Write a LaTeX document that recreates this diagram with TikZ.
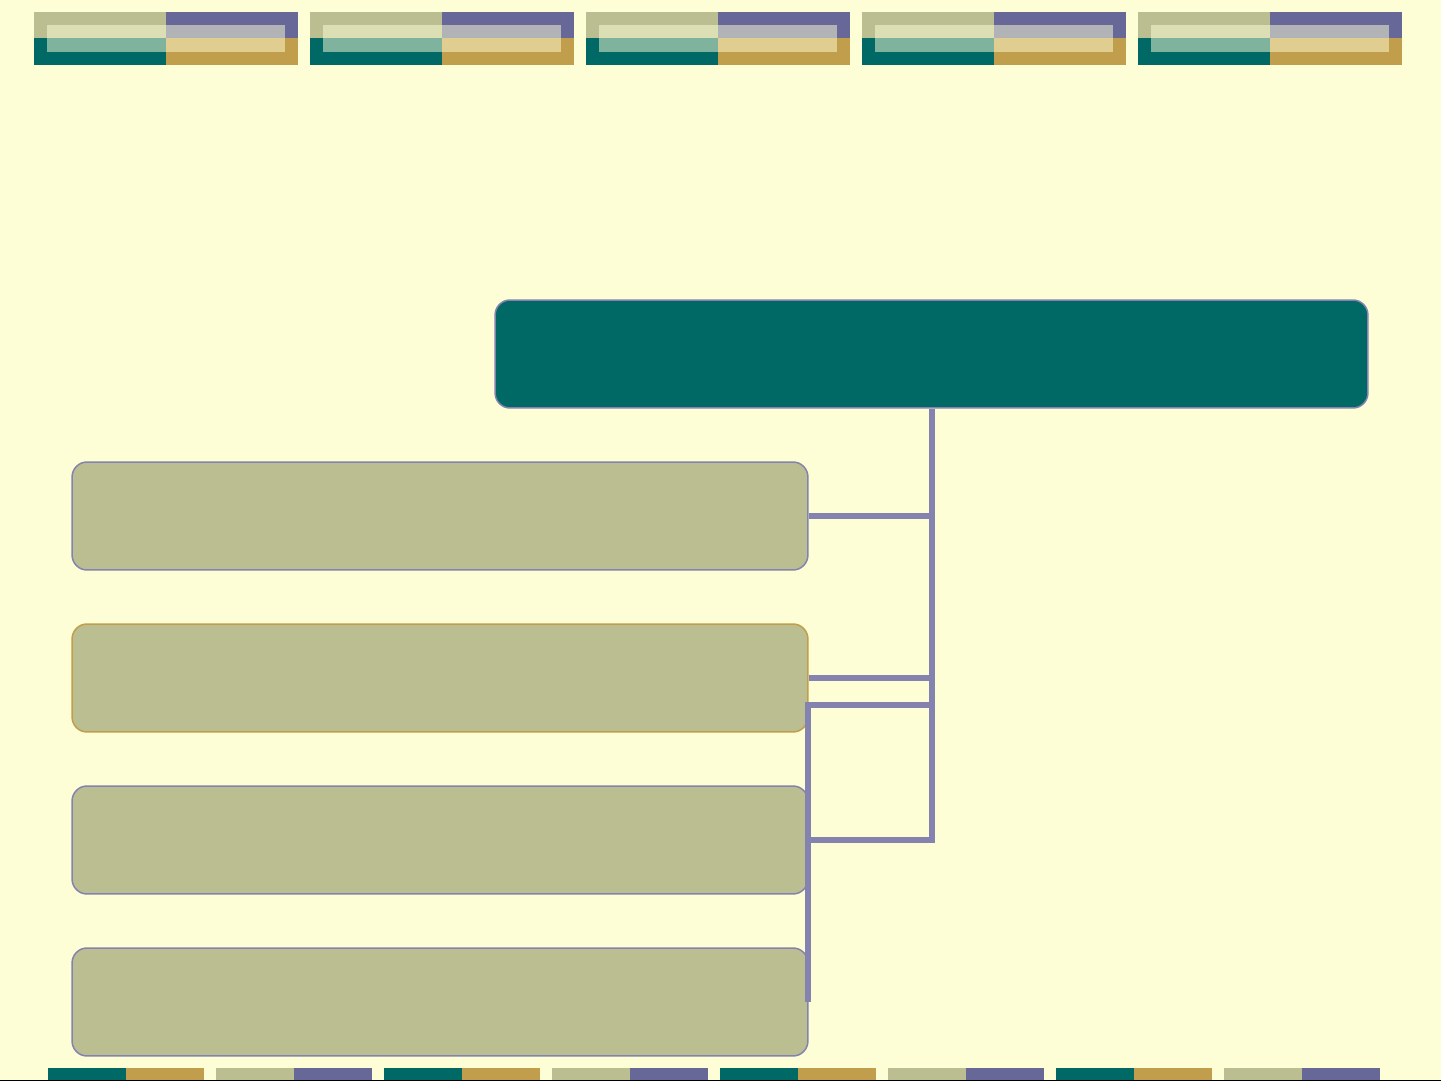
\documentclass[tikz,border=0pt]{standalone}
\usepackage{tikz}

\definecolor{slidebg}{HTML}{FEFED6}
\definecolor{deepteal}{HTML}{006966}
\definecolor{khaki}{HTML}{BBBE91}
\definecolor{slate}{HTML}{676898}
\definecolor{ochre}{HTML}{C09E4B}
\definecolor{linkcol}{HTML}{8482AE}

\begin{document}
\begin{tikzpicture}[x=0.02cm,y=-0.02cm,
	titlebox/.style={draw=linkcol,line width=0.03cm,fill=deepteal,rounded corners=0.3cm,minimum width=17.46cm,minimum height=2.16cm,inner sep=0pt},
	itembox/.style={draw=linkcol,line width=0.03cm,fill=khaki,rounded corners=0.3cm,minimum width=14.72cm,minimum height=2.16cm,inner sep=0pt},
	link/.style={draw=linkcol,line width=0.12cm}]
	\useasboundingbox (0,0) rectangle (1441,1081);
	\fill[slidebg](0,0) rectangle (1441,1081);
	% top banner
	\foreach \i in {0,...,4}{
		\fill[khaki](34+276*\i,12) rectangle (166+276*\i,38);
		\fill[slate](166+276*\i,12) rectangle (298+276*\i,38);
		\fill[deepteal](34+276*\i,38) rectangle (166+276*\i,65);
		\fill[ochre](166+276*\i,38) rectangle (298+276*\i,65);
		\fill[slidebg,opacity=0.5](47+276*\i,25) rectangle (285+276*\i,52);
	}
	% bottom strip
	\foreach \i in {0,2,4,6}{
		\fill[deepteal](48+168*\i,1068) rectangle (126+168*\i,1081);
		\fill[ochre](126+168*\i,1068) rectangle (204+168*\i,1081);
		\fill[khaki](216+168*\i,1068) rectangle (294+168*\i,1081);
		\fill[slate](294+168*\i,1068) rectangle (372+168*\i,1081);
	}
	\draw[black,line width=0.02cm](0,1080.5)--(1441,1080.5);

	\node[titlebox](title) at (931.5,354) {};
	\node[itembox](itemA) at (440,516) {};
	\node[itembox,draw=ochre](itemB) at (440,678) {};
	\node[itembox](itemC) at (440,840) {};
	\node[itembox](itemD) at (440,1002) {};

	\coordinate (hubA) at (931.5,705);
	\coordinate (hubB) at (931.5,840);
	\coordinate (tail) at (808,1002);
	\draw[link](title.south)--(hubA);
	\draw[link](itemA.east)--(itemA.east -| hubA);
	\draw[link](itemB.east)--(itemB.east -| hubA);
	\draw[link](tail) |- (hubA)--(hubB)--(itemC.east);
\end{tikzpicture}
\end{document}
